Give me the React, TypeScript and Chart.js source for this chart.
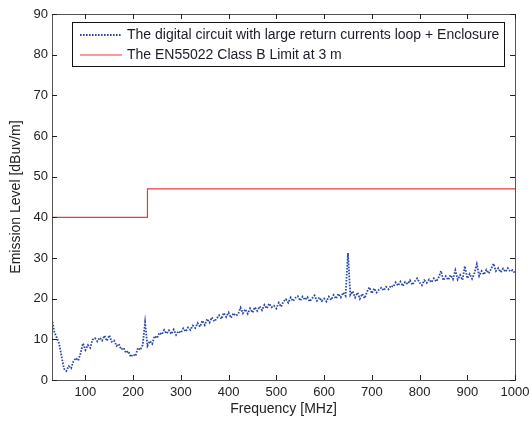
import React, { useEffect, useRef } from "react";
import { Chart, registerables } from "chart.js";

Chart.register(...registerables);

const FREQS = [
  30, 35, 40, 45, 50, 55, 60, 65, 70, 75,
  80, 85, 90, 95, 100, 105, 110, 115, 120, 125,
  130, 135, 140, 145, 150, 155, 160, 165, 170, 175,
  180, 185, 190, 195, 200, 205, 210, 215, 220, 225,
  230, 235, 240, 245, 250, 255, 260, 265, 270, 275,
  280, 285, 290, 295, 300, 305, 310, 315, 320, 325,
  330, 335, 340, 345, 350, 355, 360, 365, 370, 375,
  380, 385, 390, 395, 400, 405, 410, 415, 420, 425,
  430, 435, 440, 445, 450, 455, 460, 465, 470, 475,
  480, 485, 490, 495, 500, 505, 510, 515, 520, 525,
  530, 535, 540, 545, 550, 555, 560, 565, 570, 575,
  580, 585, 590, 595, 600, 605, 610, 615, 620, 625,
  630, 635, 640, 645, 650, 655, 660, 665, 670, 675,
  680, 685, 690, 695, 700, 705, 710, 715, 720, 725,
  730, 735, 740, 745, 750, 755, 760, 765, 770, 775,
  780, 785, 790, 795, 800, 805, 810, 815, 820, 825,
  830, 835, 840, 845, 850, 855, 860, 865, 870, 875,
  880, 885, 890, 895, 900, 905, 910, 915, 920, 925,
  930, 935, 940, 945, 950, 955, 960, 965, 970, 975,
  980, 985, 990, 995, 1000,
];

const EMISSION = [
  15.0, 11.8, 10.4, 8.9, 5.8, 2.8, 2.2, 3.4, 2.9, 4.6,
  5.4, 4.8, 6.6, 9.0, 7.4, 8.6, 7.9, 9.9, 10.3, 9.5,
  10.4, 9.7, 10.9, 9.6, 11.0, 9.4, 9.7, 8.4, 8.8, 7.5,
  7.9, 6.7, 7.1, 5.7, 6.3, 5.9, 7.9, 7.4, 8.6, 14.2,
  8.4, 9.6, 8.9, 10.8, 10.3, 11.6, 11.2, 12.3, 11.4, 12.2,
  11.3, 12.4, 11.1, 12.0, 11.6, 12.7, 11.9, 12.9, 12.3, 13.4,
  12.8, 14.0, 13.1, 14.6, 13.5, 15.0, 14.1, 15.4, 14.4, 15.1,
  15.9, 15.0, 16.5, 15.5, 16.6, 15.3, 16.4, 15.8, 16.2, 17.8,
  16.4, 17.4, 16.3, 17.6, 16.6, 17.9, 17.0, 18.1, 17.2, 18.5,
  17.6, 18.8, 17.9, 18.3, 17.6, 19.0, 18.0, 19.3, 19.9, 19.0,
  20.3, 19.4, 20.2, 20.6, 19.5, 20.5, 19.7, 20.4, 19.3, 20.1,
  20.8, 19.5, 20.3, 19.4, 20.0, 19.3, 20.5, 19.7, 20.9, 20.0,
  21.2, 20.3, 21.5, 20.7, 31.2, 20.9, 21.8, 20.3, 21.5, 20.0,
  21.2, 20.1, 21.7, 22.8, 21.3, 22.5, 21.5, 22.2, 22.7, 22.0,
  22.9, 22.3, 23.2, 22.9, 24.0, 23.2, 24.2, 23.1, 24.1, 23.6,
  24.5, 23.4, 24.3, 25.0, 24.0, 23.3, 24.5, 23.9, 24.7, 24.0,
  25.0, 24.2, 25.2, 26.8, 24.5, 25.5, 24.6, 25.8, 24.8, 27.0,
  24.7, 25.8, 24.6, 28.0, 25.0, 26.1, 24.9, 26.3, 28.5, 25.6,
  26.8, 25.9, 27.1, 26.2, 27.3, 28.6, 26.8, 27.5, 26.5, 27.4,
  26.6, 27.5, 26.7, 27.0, 26.3,
];

const LIMIT_FREQS = [30, 230, 230, 1000];
const LIMIT_VALUES = [40, 40, 47, 47];

const X_TICKS = [100, 200, 300, 400, 500, 600, 700, 800, 900, 1000];
const Y_TICKS = [0, 10, 20, 30, 40, 50, 60, 70, 80, 90];

const SERIES_LABELS = [
  "The digital circuit with large return currents loop + Enclosure",
  "The EN55022 Class B Limit at 3 m",
];

const FONT = "'Liberation Sans', Arial, sans-serif";
const BLUE = "#2b47a6";
const RED = "#f0383c";

const frameAndLegend = {
  id: "frameAndLegend",
  afterDraw(chart: any) {
    const { ctx, chartArea } = chart;
    const { left, right, top, bottom } = chartArea;
    const xs = chart.scales.x;
    const ys = chart.scales.y;
    ctx.save();
    ctx.strokeStyle = "#555";
    ctx.lineWidth = 1;
    ctx.strokeRect(Math.round(left) + 0.5, Math.round(top) + 0.5, Math.round(right - left), Math.round(bottom - top));
    ctx.strokeStyle = "#222";
    ctx.beginPath();
    X_TICKS.forEach((v) => {
      const px = Math.round(xs.getPixelForValue(v)) + 0.5;
      ctx.moveTo(px, bottom);
      ctx.lineTo(px, bottom - 5);
      ctx.moveTo(px, top);
      ctx.lineTo(px, top + 5);
    });
    Y_TICKS.forEach((v) => {
      const py = Math.round(ys.getPixelForValue(v)) + 0.5;
      ctx.moveTo(left, py);
      ctx.lineTo(left + 5, py);
      ctx.moveTo(right, py);
      ctx.lineTo(right - 5, py);
    });
    ctx.stroke();

    const bx = left + 20;
    const by = top + 8;
    const bw = 432;
    const bh = 44;
    ctx.fillStyle = "#fff";
    ctx.fillRect(bx, by, bw, bh);
    ctx.strokeStyle = "#111";
    ctx.strokeRect(Math.round(bx) + 0.5, Math.round(by) + 0.5, bw, bh);
    ctx.font = `14px ${FONT}`;
    ctx.textBaseline = "middle";
    ctx.textAlign = "left";
    chart.data.datasets.forEach((ds: any, i: number) => {
      const ry = by + 13 + i * 20;
      ctx.beginPath();
      ctx.strokeStyle = ds.borderColor;
      ctx.lineWidth = ds.borderWidth;
      ctx.setLineDash(ds.borderDash || []);
      ctx.moveTo(bx + 8, ry);
      ctx.lineTo(bx + 50, ry);
      ctx.stroke();
      ctx.setLineDash([]);
      ctx.fillStyle = "#1c1c28";
      ctx.fillText(ds.label, bx + 55, ry);
    });
    ctx.restore();
  },
};

export default function App() {
  const canvasRef = useRef<HTMLCanvasElement | null>(null);

  useEffect(() => {
    document.body.style.margin = "0";
    const canvas = canvasRef.current;
    if (!canvas) return;
    const emissionPoints = FREQS.map((f, i) => ({ x: f, y: EMISSION[i] }));
    const limitPoints = LIMIT_FREQS.map((f, i) => ({ x: f, y: LIMIT_VALUES[i] }));
    const chart = new Chart(canvas, {
      type: "line",
      data: {
        datasets: [
          {
            label: SERIES_LABELS[0],
            data: emissionPoints,
            borderColor: BLUE,
            borderWidth: 1.8,
            borderDash: [1.6, 1.4],
            pointRadius: 0,
            tension: 0,
          },
          {
            label: SERIES_LABELS[1],
            data: limitPoints,
            borderColor: RED,
            borderWidth: 1.2,
            pointRadius: 0,
            tension: 0,
          },
        ],
      },
      options: {
        animation: false,
        responsive: false,
        devicePixelRatio: 1,
        layout: { padding: { left: 0, right: 15, top: 14, bottom: 0 } },
        plugins: {
          legend: { display: false },
          tooltip: { enabled: false },
        },
        scales: {
          x: {
            type: "linear",
            min: 30,
            max: 1000,
            afterBuildTicks: (scale: any) => {
              scale.ticks = X_TICKS.map((v) => ({ value: v }));
            },
            afterFit: (scale: any) => {
              scale.height = 43;
              scale.paddingRight = 0;
              scale.paddingLeft = 0;
            },
            grid: { display: false, drawTicks: false },
            border: { display: false },
            ticks: {
              padding: 5,
              color: "#222",
              font: { family: FONT, size: 13 },
              maxRotation: 0,
              autoSkip: false,
              callback: (v: any) => String(v),
            },
            title: {
              display: true,
              text: "Frequency [MHz]",
              color: "#222",
              font: { family: FONT, size: 14 },
              padding: { top: 0, bottom: 5 },
            },
          },
          y: {
            min: 0,
            max: 90,
            afterBuildTicks: (scale: any) => {
              scale.ticks = Y_TICKS.map((v) => ({ value: v }));
            },
            afterFit: (scale: any) => {
              scale.width = 52;
              scale.paddingTop = 0;
              scale.paddingBottom = 0;
            },
            grid: { display: false, drawTicks: false },
            border: { display: false },
            ticks: {
              padding: 4,
              color: "#222",
              font: { family: FONT, size: 13 },
              autoSkip: false,
              callback: (v: any) => String(v),
            },
            title: {
              display: true,
              text: "Emission Level [dBuv/m]",
              color: "#222",
              font: { family: FONT, size: 14 },
              padding: { top: 8, bottom: 0 },
            },
          },
        },
      },
      plugins: [frameAndLegend],
    });
    return () => chart.destroy();
  }, []);

  return (
    <div style={{ width: 530, height: 423 }}>
      <canvas ref={canvasRef} width={530} height={423} style={{ display: "block" }} />
    </div>
  );
}
